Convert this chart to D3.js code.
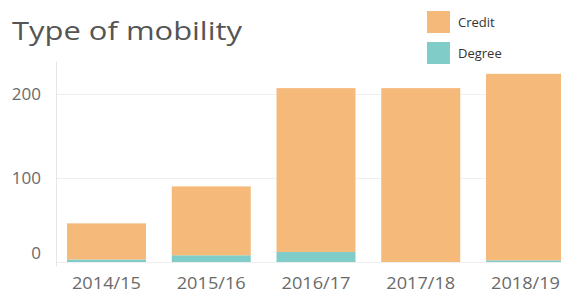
<!DOCTYPE html>
<html>
<head>
<meta charset="utf-8">
<script src="https://cdn.jsdelivr.net/npm/d3@7"></script>
<style>
  body { margin: 0; background: #fff; }
  svg { display: block; font-family: "Open Sans", "DejaVu Sans", sans-serif; }
</style>
</head>
<body>
<div id="chart"></div>
<script>
// stacked bars: type of mobility per academic year
const years = ["2014/15", "2015/16", "2016/17", "2017/18", "2018/19"];
const degree = [3, 8, 12, 0, 2];
const credit = [43, 82, 195, 207, 222];
const yTicks = [0, 100, 200];
const seriesNames = ["Credit", "Degree"];
const seriesColors = ["#f5ba7a", "#80ccc8"];

const width = 561, height = 293;

const svg = d3.select("#chart").append("svg")
  .attr("width", width)
  .attr("height", height);

const x = d3.scaleBand()
  .domain(years)
  .range([56, 576])
  .paddingInner(0.246)
  .paddingOuter(0.105);

const y = d3.scaleLinear()
  .domain([0, 250])
  .range([262, 52]);

// gridlines
svg.append("g")
  .selectAll("line")
  .data(yTicks)
  .join("line")
  .attr("x1", 56)
  .attr("x2", width)
  .attr("y1", function(d) { return y(d) + 0.5; })
  .attr("y2", function(d) { return y(d) + 0.5; })
  .attr("stroke", "#efefef");

svg.append("line")
  .attr("x1", 56.5).attr("x2", 56.5)
  .attr("y1", 62).attr("y2", 266)
  .attr("stroke", "#e6e6e6");

// y tick labels (Tableau puts the 0 label a bit higher)
svg.append("g")
  .selectAll("text")
  .data(yTicks)
  .join("text")
  .attr("x", 41)
  .attr("y", function(d) { return d === 0 ? y(d) - 9 : y(d); })
  .attr("dy", "0.35em")
  .attr("text-anchor", "end")
  .attr("font-size", 17)
  .attr("fill", "#6a6a6a")
  .text(function(d) { return d; });

const rows = years.map(function(yr, i) {
  return { year: yr, Credit: credit[i], Degree: degree[i] };
});
const stack = d3.stack().keys(["Degree", "Credit"])(rows);
const colorOf = d3.scaleOrdinal().domain(seriesNames).range(seriesColors);

svg.append("g")
  .selectAll("g")
  .data(stack)
  .join("g")
  .attr("fill", function(s) { return colorOf(s.key); })
  .selectAll("rect")
  .data(function(s) { return s; })
  .join("rect")
  .attr("x", function(d) { return x(d.data.year); })
  .attr("width", x.bandwidth())
  .attr("y", function(d) { return y(d[1]); })
  .attr("height", function(d) { return Math.max(0, y(d[0]) - y(d[1])); });

// x labels
svg.append("g")
  .selectAll("text")
  .data(years)
  .join("text")
  .attr("x", function(d) { return x(d) + x.bandwidth() / 2; })
  .attr("y", 283)
  .attr("dy", "0.35em")
  .attr("text-anchor", "middle")
  .attr("font-size", 17)
  .attr("textLength", 69)
  .attr("lengthAdjust", "spacingAndGlyphs")
  .attr("fill", "#6a6a6a")
  .text(function(d) { return d; });

// title
svg.append("text")
  .attr("x", 12)
  .attr("y", 40)
  .attr("font-size", 25)
  .attr("textLength", 230)
  .attr("lengthAdjust", "spacingAndGlyphs")
  .attr("fill", "#555")
  .text("Type of mobility");

// legend
const legend = svg.append("g")
  .selectAll("g")
  .data(seriesNames)
  .join("g")
  .attr("transform", function(d, i) { return "translate(427," + (11 + i * 31) + ")"; });

legend.append("rect")
  .attr("width", 23)
  .attr("height", 22)
  .attr("fill", function(d) { return colorOf(d); });

legend.append("text")
  .attr("x", 31)
  .attr("y", 11)
  .attr("dy", "0.35em")
  .attr("font-size", 13)
  .attr("fill", "#333")
  .text(function(d) { return d; });
</script>
</body>
</html>
